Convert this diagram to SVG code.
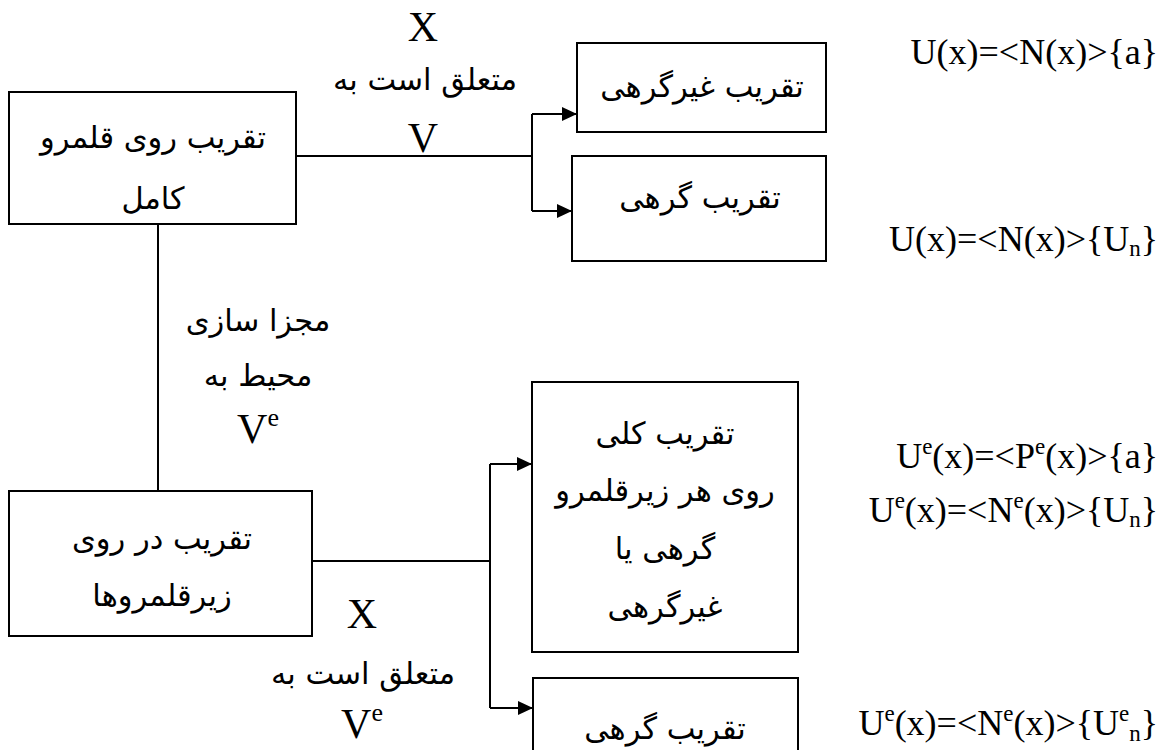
<svg xmlns="http://www.w3.org/2000/svg" width="1167" height="750" viewBox="0 0 1167 750">
<style>
.box{fill:#fff;stroke:#000;stroke-width:2}
.fa{font-family:"DejaVu Sans",sans-serif;font-size:30.5px;fill:#000;text-anchor:middle}
.lat{font-family:"Liberation Serif","Times New Roman",serif;font-size:42px;fill:#000;text-anchor:middle}
.eq{font-family:"Liberation Serif","Times New Roman",serif;font-size:36px;fill:#000;text-anchor:end}
.conn{fill:none;stroke:#000;stroke-width:2}
</style>
<defs>
<marker id="arr" markerUnits="userSpaceOnUse" markerWidth="16" markerHeight="14" refX="15" refY="7" orient="auto">
<path d="M0,0 L15,7 L0,14 z" fill="#000"/>
</marker>
</defs>
<rect width="1167" height="750" fill="#fff"/>
<g id="connectors">
<path class="conn" d="M296,156 H532 M532,114 V211 M158,224 V491 M312,561 H490 M490,464 V708"/>
<path class="conn" d="M532,114 H577" marker-end="url(#arr)"/>
<path class="conn" d="M532,211 H572" marker-end="url(#arr)"/>
<path class="conn" d="M490,464 H532" marker-end="url(#arr)"/>
<path class="conn" d="M490,708 H533" marker-end="url(#arr)"/>
</g>
<g id="label-top">
<text class="lat" x="423" y="41">X</text>
<text class="fa" x="425" y="90">متعلق است به</text>
<text class="lat" x="423" y="152">V</text>
</g>
<g id="label-side">
<text class="fa" x="258" y="331">مجزا سازی</text>
<text class="fa" x="258" y="386">محیط به</text>
<text class="lat" x="258" y="443">V<tspan font-size="26" dy="-17">e</tspan></text>
</g>
<g id="label-bottom">
<text class="lat" x="362" y="628">X</text>
<text class="fa" x="363" y="684">متعلق است به</text>
<text class="lat" x="362" y="738">V<tspan font-size="26" dy="-17">e</tspan></text>
</g>
<g id="node-full">
<rect class="box" x="9" y="92" width="287" height="132"/>
<text class="fa" x="153" y="148">تقریب روی قلمرو</text>
<text class="fa" x="153" y="209">کامل</text>
</g>
<g id="node-nonnodal">
<rect class="box" x="577" y="43" width="249" height="89"/>
<text class="fa" x="702" y="97">تقریب غیرگرهی</text>
</g>
<g id="node-nodal">
<rect class="box" x="572" y="156" width="254" height="105"/>
<text class="fa" x="700" y="208">تقریب گرهی</text>
</g>
<g id="node-sub">
<rect class="box" x="9" y="491" width="303" height="145"/>
<text class="fa" x="162" y="549">تقریب در روی</text>
<text class="fa" x="162" y="606">زیرقلمروها</text>
</g>
<g id="node-global">
<rect class="box" x="532" y="382" width="266" height="270"/>
<text class="fa" x="665" y="444">تقریب کلی</text>
<text class="fa" x="665" y="501">روی هر زیرقلمرو</text>
<text class="fa" x="665" y="559">گرهی یا</text>
<text class="fa" x="665" y="617">غیرگرهی</text>
</g>
<g id="node-nodal-sub">
<rect class="box" x="533" y="678" width="265" height="90"/>
<text class="fa" x="665" y="739">تقریب گرهی</text>
</g>
<g id="formulas">
<text class="eq" x="1158" y="64">U(x)=&lt;N(x)&gt;{a}</text>
<text class="eq" x="1158" y="251">U(x)=&lt;N(x)&gt;{U<tspan font-size="23" dy="5">n</tspan><tspan dy="-5">}</tspan></text>
<text class="eq" x="1158" y="468">U<tspan font-size="23" dy="-14">e</tspan><tspan dy="14">(x)=&lt;P</tspan><tspan font-size="23" dy="-14">e</tspan><tspan dy="14">(x)&gt;{a}</tspan></text>
<text class="eq" x="1158" y="522">U<tspan font-size="23" dy="-14">e</tspan><tspan dy="14">(x)=&lt;N</tspan><tspan font-size="23" dy="-14">e</tspan><tspan dy="14">(x)&gt;{U</tspan><tspan font-size="23" dy="5">n</tspan><tspan dy="-5">}</tspan></text>
<text class="eq" x="1158" y="735">U<tspan font-size="23" dy="-14">e</tspan><tspan dy="14">(x)=&lt;N</tspan><tspan font-size="23" dy="-14">e</tspan><tspan dy="14">(x)&gt;{U</tspan><tspan font-size="23" dy="-14">e</tspan><tspan font-size="23" dy="20">n</tspan><tspan dy="-6">}</tspan></text>
</g>
</svg>
